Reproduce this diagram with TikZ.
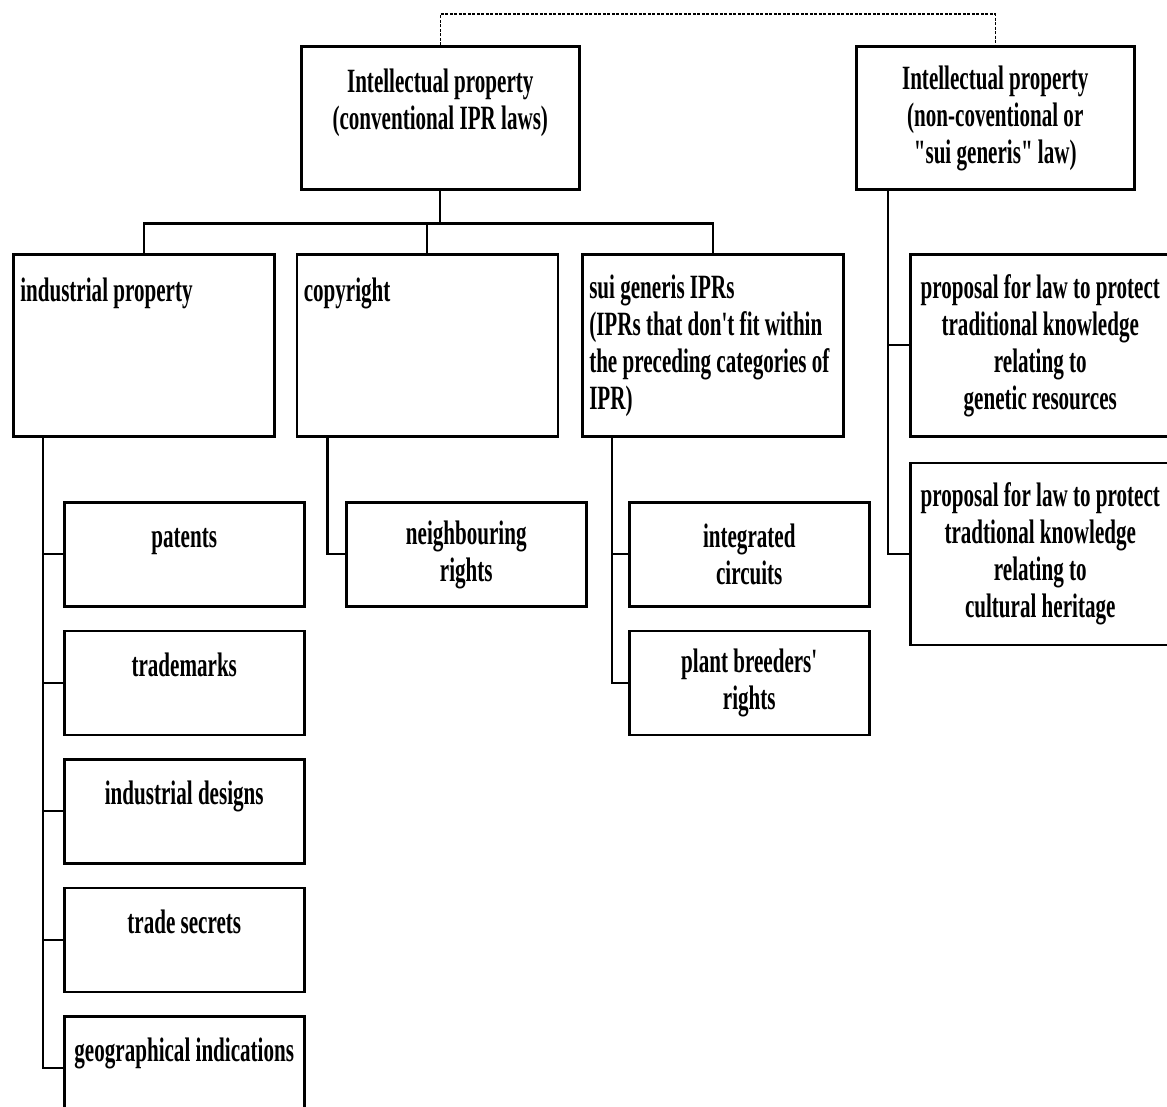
\documentclass[tikz,border=0pt]{standalone}
\usepackage{fontspec}
\setmainfont{Liberation Serif}[Ligatures=TeXOff, FakeStretch=0.62]
\usetikzlibrary{positioning}
\tikzset{
  every picture/.style={line join=miter},
  box/.style={draw, line width=2.5pt, inner xsep=4pt, inner ysep=0pt,
    font=\fontsize{34pt}{37pt}\selectfont\bfseries, text height=24pt},
  % the two kinds of law at the top
  headbox/.style={box, align=flush center, text width=270pt, minimum height=143pt},
  % categories: text sits top left
  catbox/.style={box, align=flush left, inner xsep=7pt, text width=247pt, minimum height=182pt},
  % entries below the categories
  itembox/.style={box, align=flush center, text width=232pt, minimum height=104pt},
  tkbox/.style={box, align=flush center, text width=252pt, minimum height=182pt},
  link/.style={line width=2.2pt},
  dotlink/.style={line width=1.5pt, dash pattern=on 3pt off 1.5pt},
}

\begin{document}
\begin{tikzpicture}[x=1pt, y=-1pt]
  \useasboundingbox (0,0) rectangle (1167,1106);
  % heads
  \node[headbox, anchor=north west] (convip) at (300,45) {Intellectual property\\(conventional IPR laws)\\~};
  \node[headbox, anchor=north west] (suiip) at (855,45) {Intellectual property\\(non-coventional or\\"sui generis" law)};
  % categories
  \node[catbox, anchor=north west] (indprop) at (12,253) {industrial property\\~\\~\\~};
  \node[catbox, right=20pt of indprop] (copyr) {copyright\\~\\~\\~};
  \node[catbox, right=22pt of copyr] (suigen) {sui generis IPRs\\(IPRs that don't fit within\\the preceding categories of\\IPR)};
  % industrial property
  \node[itembox, anchor=north west] (patents) at (63,501) {patents\\~};
  \node[itembox, below=22pt of patents] (trademarks) {trademarks\\~};
  \node[itembox, below=22pt of trademarks] (designs) {industrial designs\\~};
  \node[itembox, below=22pt of designs] (secrets) {trade secrets\\~};
  \node[itembox, below=22pt of secrets] (geo) {geographical indications\\~};
  % copyright and sui generis IPRs
  \node[itembox, anchor=north west] (neighb) at (345,501) {neighbouring\\rights};
  \node[itembox, anchor=north west] (intcirc) at (628,501) {integrated\\circuits};
  \node[itembox, below=22pt of intcirc] (breeders) {plant breeders'\\rights};
  % proposals
  \node[tkbox, anchor=north west] (tkgen) at (909,253) {proposal for law to protect\\traditional knowledge\\relating to\\genetic resources};
  \node[tkbox, below=24pt of tkgen] (tkcult) {proposal for law to protect\\tradtional knowledge\\relating to\\cultural heritage};

  \draw[dotlink] (convip.north) -- ++(0,-31) -| (suiip.north);
  \draw[link] (convip.south) -- ++(0,33) coordinate (bus);
  \draw[link] (indprop.north) |- (bus) -| (suigen.north);
  \draw[link] (copyr.north) -- (copyr.north |- bus);

  \coordinate (indtrunk) at ([xshift=31pt]indprop.south west);
  \coordinate (copytrunk) at ([xshift=32pt]copyr.south west);
  \coordinate (suitrunk) at ([xshift=31pt]suigen.south west);
  \coordinate (tktrunk) at ([xshift=33pt]suiip.south west);
  \foreach \n in {patents, trademarks, designs, secrets, geo}
    \draw[link] (indtrunk) |- (\n.west);
  \draw[link] (copytrunk) |- (neighb.west);
  \foreach \n in {intcirc, breeders}
    \draw[link] (suitrunk) |- (\n.west);
  \foreach \n in {tkgen, tkcult}
    \draw[link] (tktrunk) |- (\n.west);
\end{tikzpicture}
\end{document}
